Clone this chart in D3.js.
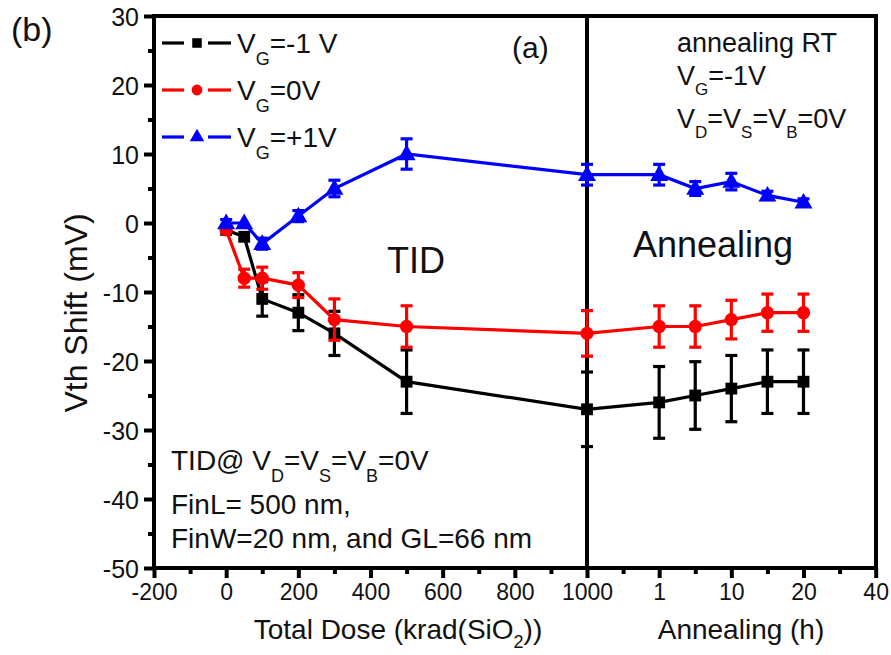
<!DOCTYPE html>
<html>
<head>
<meta charset="utf-8">
<script src="https://cdn.jsdelivr.net/npm/d3@7"></script>
<style>
  html, body { margin: 0; padding: 0; background: #fff; }
  svg { display: block; font-family: Arial, "Liberation Sans", Helvetica, sans-serif; }
</style>
</head>
<body>
<svg id="chart" width="891" height="655"></svg>
<script>
// ---- data ----
const doses = [0, 50, 100, 200, 300, 500, 1000];            // krad(SiO2)
const annealHours = [1, 5, 10, 15, 20];                      // h (0 h = end of TID)

const seriesNames = ["VG=-1 V", "VG=0V", "VG=+1V"];
const colors = ["#000000", "#ff0000", "#0000ff"];

// Vth shift (mV) during irradiation
const tidNeg1 = [-1, -2, -11, -13, -16, -23, -27];
const tidZero = [-1, -8, -8, -9, -14, -15, -16];
const tidPos1 = [0, 0, -3, 1, 5, 10, 7];
// error bars (mV) during irradiation
const tidNeg1Err = [0, 0, 2.5, 2.6, 3.2, 4.6, 5.4];
const tidZeroErr = [0, 1.3, 1.6, 1.8, 3.0, 3.0, 3.3];
const tidPos1Err = [0.5, 0, 0.8, 0.8, 1.2, 2.2, 1.5];

// Vth shift (mV) during room-temperature annealing
const annNeg1 = [-26, -25, -24, -23, -23];
const annZero = [-15, -15, -14, -13, -13];
const annPos1 = [7, 5, 6, 4, 3];
const annNeg1Err = [5.2, 4.9, 4.8, 4.6, 4.6];
const annZeroErr = [3.0, 3.0, 2.8, 2.7, 2.7];
const annPos1Err = [1.5, 1.0, 1.2, 0.6, 0.5];

// axis ticks
const yTicks = [-50, -40, -30, -20, -10, 0, 10, 20, 30];
const doseTicks = [-200, 0, 200, 400, 600, 800, 1000];
const annealTicks = [1, 10, 20, 40];
const annealMinor = [0.5, 5, 15, 30];

// ---- layout ----
const svg = d3.select("#chart");
const pLeft = 154, pRight = 876, pTop = 16, pBottom = 568;
const INK = "#111";

const y = d3.scaleLinear().domain([-50, 30]).range([pBottom, pTop]);
const xDose = d3.scaleLinear().domain([-200, 1000]).range([pLeft, 587]);
const split = xDose(1000);
const step = xDose(1000) - xDose(800);
// annealing axis: evenly spaced labelled hours (piecewise linear)
const xAnn = d3.scaleLinear()
  .domain([0, 1, 5, 10, 15, 20, 40])
  .range([0, 1, 1.5, 2, 2.5, 3, 4].map(k => split + k * step));

const plain = d => String(d);
const AXW = 4;
const LW = 3.2;

// ---- frame ----
const g = svg.append("g");

function styleAxis(sel, fs) {
  sel.select(".domain").remove();
  sel.selectAll("line").attr("stroke", "#000").attr("stroke-width", AXW);
  if (fs) sel.selectAll("text").attr("font-size", fs).attr("fill", INK);
}

// ---- y axis ----
g.append("g").attr("transform", `translate(${pLeft},0)`)
  .call(d3.axisLeft(y).tickValues(yTicks).tickSize(10).tickPadding(5).tickFormat(plain))
  .call(s => styleAxis(s, 25))
  .selectAll("text").attr("dy", "0.36em");
g.append("g").attr("transform", `translate(${pLeft},0)`)
  .call(d3.axisLeft(y).tickValues(d3.range(-45, 30, 10)).tickSize(6).tickFormat(""))
  .call(s => styleAxis(s));

// ---- x axes ----
g.append("g").attr("transform", `translate(0,${pBottom})`)
  .call(d3.axisBottom(xDose).tickValues(doseTicks).tickSize(10).tickPadding(6).tickFormat(plain))
  .call(s => styleAxis(s, 23));
g.append("g").attr("transform", `translate(0,${pBottom})`)
  .call(d3.axisBottom(xDose).tickValues(d3.range(-100, 1000, 200)).tickSize(6).tickFormat(""))
  .call(s => styleAxis(s));
g.append("g").attr("transform", `translate(0,${pBottom})`)
  .call(d3.axisBottom(xAnn).tickValues(annealTicks).tickSize(10).tickPadding(6).tickFormat(plain))
  .call(s => styleAxis(s, 23));
g.append("g").attr("transform", `translate(0,${pBottom})`)
  .call(d3.axisBottom(xAnn).tickValues(annealMinor).tickSize(6).tickFormat(""))
  .call(s => styleAxis(s));

g.append("rect").attr("x", pLeft).attr("y", pTop)
  .attr("width", pRight - pLeft).attr("height", pBottom - pTop)
  .attr("fill", "none").attr("stroke", "#000").attr("stroke-width", AXW);
g.append("line").attr("x1", split).attr("x2", split)
  .attr("y1", pTop).attr("y2", pBottom)
  .attr("stroke", "#000").attr("stroke-width", AXW);

// ---- axis titles ----
const xt = svg.append("text").attr("x", 398).attr("y", 639)
  .attr("text-anchor", "middle").attr("font-size", 28).attr("fill", INK);
xt.append("tspan").text("Total Dose (krad(SiO");
xt.append("tspan").attr("font-size", 18).attr("dy", 9).text("2");
xt.append("tspan").attr("dy", -9).text("))");

svg.append("text").attr("x", 741).attr("y", 639).attr("text-anchor", "middle")
  .attr("font-size", 28).attr("fill", INK).text("Annealing (h)");

svg.append("text").attr("transform", `translate(87,313) rotate(-90)`)
  .attr("text-anchor", "middle").attr("font-size", 32).attr("fill", INK).text("Vth Shift (mV)");

svg.append("text").attr("x", 11).attr("y", 41).attr("font-size", 34).attr("fill", INK).text("(b)");

// ---- data series ----
const series = [
  { name: seriesNames[0], color: colors[0], shape: d3.symbolSquare, size: 140,
    tid: tidNeg1, tidErr: tidNeg1Err, ann: annNeg1, annErr: annNeg1Err },
  { name: seriesNames[1], color: colors[1], shape: d3.symbolCircle, size: 140,
    tid: tidZero, tidErr: tidZeroErr, ann: annZero, annErr: annZeroErr },
  { name: seriesNames[2], color: colors[2], shape: d3.symbolTriangle, size: 140,
    tid: tidPos1, tidErr: tidPos1Err, ann: annPos1, annErr: annPos1Err },
];

series.forEach(s => {
  const pts = doses.map((d, i) => ({ x: xDose(d), v: s.tid[i], e: s.tidErr[i] }))
    .concat(annealHours.map((h, i) => ({ x: xAnn(h), v: s.ann[i], e: s.annErr[i] })));
  const sg = svg.append("g");
  sg.append("path").datum(pts)
    .attr("d", d3.line().x(p => p.x).y(p => y(p.v)))
    .attr("fill", "none").attr("stroke", s.color).attr("stroke-width", LW);
  pts.filter(p => p.e > 0).forEach(p => {
    const y1 = y(p.v + p.e), y2 = y(p.v - p.e);
    sg.append("line").attr("x1", p.x).attr("x2", p.x).attr("y1", y1).attr("y2", y2)
      .attr("stroke", s.color).attr("stroke-width", LW);
    [y1, y2].forEach(yy => sg.append("line").attr("x1", p.x - 6).attr("x2", p.x + 6)
      .attr("y1", yy).attr("y2", yy).attr("stroke", s.color).attr("stroke-width", LW));
  });
  sg.selectAll("path.m").data(pts).join("path").attr("class", "m")
    .attr("transform", p => `translate(${p.x},${y(p.v) + (s.shape === d3.symbolTriangle ? 1 : 0)})`)
    .attr("d", d3.symbol().type(s.shape).size(s.size))
    .attr("fill", s.color);
});

// ---- legend ----
const legRows = [43, 90, 137];
const legLabels = ["=-1 V", "=0V", "=+1V"];
series.forEach((s, i) => {
  const ly = legRows[i];
  const lg = svg.append("g");
  lg.append("line").attr("x1", 162).attr("x2", 184).attr("y1", ly).attr("y2", ly)
    .attr("stroke", s.color).attr("stroke-width", LW);
  lg.append("line").attr("x1", 208).attr("x2", 231).attr("y1", ly).attr("y2", ly)
    .attr("stroke", s.color).attr("stroke-width", LW);
  lg.append("path").attr("transform", `translate(197,${ly})`)
    .attr("d", d3.symbol().type(s.shape).size(s.size * 0.65)).attr("fill", s.color);
  const t = lg.append("text").attr("x", 237).attr("y", ly + 10).attr("font-size", 28).attr("fill", INK);
  t.append("tspan").text("V");
  t.append("tspan").attr("font-size", 18).attr("dy", 12).text("G");
  t.append("tspan").attr("dy", -12).text(legLabels[i]);
});

// ---- annotations ----
function subText(x, yb, parts, fs, sfs, off) {
  const t = svg.append("text").attr("x", x).attr("y", yb).attr("font-size", fs).attr("fill", INK);
  let shifted = false;
  parts.forEach(([txt, sub]) => {
    const sp = t.append("tspan").text(txt);
    if (sub) { sp.attr("font-size", sfs); if (!shifted) { sp.attr("dy", off); shifted = true; } }
    else if (shifted) { sp.attr("dy", -off); shifted = false; }
  });
  return t;
}

svg.append("text").attr("x", 512).attr("y", 58).attr("font-size", 30).attr("fill", INK).text("(a)");
svg.append("text").attr("x", 387).attr("y", 273).attr("font-size", 36).attr("fill", INK).text("TID");
svg.append("text").attr("x", 633).attr("y", 257).attr("font-size", 36).attr("fill", INK).text("Annealing");

svg.append("text").attr("x", 677).attr("y", 52).attr("font-size", 27).attr("fill", INK).text("annealing RT");
subText(677, 85, [["V"], ["G", true], ["=-1V"]], 27, 17, 10);
subText(677, 128, [["V"], ["D", true], ["=V"], ["S", true], ["=V"], ["B", true], ["=0V"]], 27, 17, 10);

subText(171, 470, [["TID@ V"], ["D", true], ["=V"], ["S", true], ["=V"], ["B", true], ["=0V"]], 28, 18, 12);
svg.append("text").attr("x", 171).attr("y", 514).attr("font-size", 28).attr("fill", INK).text("FinL= 500 nm,");
svg.append("text").attr("x", 171).attr("y", 548).attr("font-size", 28).attr("fill", INK).text("FinW=20 nm, and GL=66 nm");
</script>
</body>
</html>
